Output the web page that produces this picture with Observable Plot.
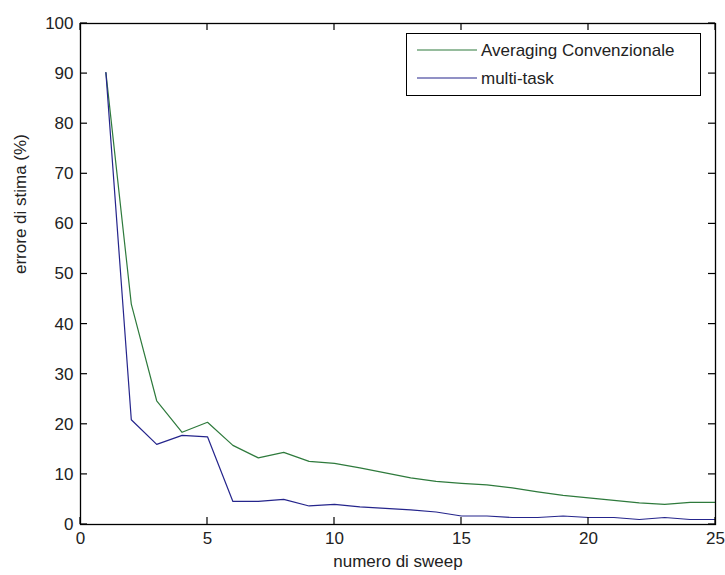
<!DOCTYPE html>
<html>
<head>
<meta charset="utf-8">
<script src="https://cdn.jsdelivr.net/npm/d3@7"></script>
<script src="https://cdn.jsdelivr.net/npm/@observablehq/plot@0.6"></script>
<style>
  html, body { margin: 0; padding: 0; background: #fff; }
  #chart { width: 725px; height: 575px; }
</style>
</head>
<body>
<div id="chart"></div>
<script>
const sweeps = [1,2,3,4,5,6,7,8,9,10,11,12,13,14,15,16,17,18,19,20,21,22,23,24,25];
const averagingConvenzionale = [90.2,44,24.7,18.4,20.4,15.8,13.3,14.4,12.6,12.2,11.3,10.3,9.3,8.6,8.2,7.9,7.3,6.5,5.8,5.3,4.8,4.3,4.0,4.4,4.4];
const multiTask = [90.2,20.9,16.0,17.8,17.5,4.6,4.6,5.0,3.7,4.0,3.5,3.2,2.9,2.5,1.7,1.7,1.4,1.4,1.7,1.4,1.4,1.0,1.4,1.0,1.0];
const seriesNames = ["Averaging Convenzionale", "multi-task"];
const seriesColors = ["#2e7a3c", "#25258c"];
const xTicks = [0,5,10,15,20,25];
const yTicks = [0,10,20,30,40,50,60,70,80,90,100];

const rows = [];
sweeps.forEach((s, i) => {
  rows.push({sweep: s, err: averagingConvenzionale[i], serie: seriesNames[0]});
  rows.push({sweep: s, err: multiTask[i], serie: seriesNames[1]});
});

const W = 725, H = 575, ML = 80, MT = 23, MR = 10, MB = 51;
const TICK = 7;
const font = "Liberation Sans, Arial, sans-serif";

const plot = Plot.plot({
  width: W,
  height: H,
  marginLeft: ML,
  marginTop: MT,
  marginRight: MR,
  marginBottom: MB,
  style: {fontFamily: font, fontSize: "17px", color: "#222", background: "#fff"},
  x: {domain: [0, 25], label: null},
  y: {domain: [0, 100], label: null},
  color: {domain: seriesNames, range: seriesColors},
  marks: [
    Plot.lineY(rows, {x: "sweep", y: "err", stroke: "serie", strokeWidth: 1.2}),
    Plot.axisX(xTicks, {anchor: "bottom", tickSize: 0, tickPadding: 7, fontSize: 17}),
    Plot.axisY(yTicks, {anchor: "left", tickSize: 0, tickPadding: 7, fontSize: 17}),
    Plot.frame({stroke: "#000", strokeWidth: 1.3}),
    Plot.text(["numero di sweep"], {frameAnchor: "bottom", dy: 42, fontSize: 17, fill: "#222"}),
    Plot.text(["errore di stima (%)"], {frameAnchor: "left", dx: -60, rotate: -90, fontSize: 17, fill: "#222"})
  ]
});

// inward MATLAB-style ticks on all four sides, placed with the plot's own scales
const sx = plot.scale("x"), sy = plot.scale("y");
const svg = d3.select(plot);
const tg = svg.append("g").attr("stroke", "#000").attr("stroke-width", 1.2);
const pTop = MT, pBottom = H - MB, pLeft = ML, pRight = W - MR;
xTicks.forEach(t => {
  const px = sx.apply(t);
  tg.append("line").attr("x1", px).attr("x2", px).attr("y1", pBottom).attr("y2", pBottom - TICK);
  tg.append("line").attr("x1", px).attr("x2", px).attr("y1", pTop).attr("y2", pTop + TICK);
});
yTicks.forEach(t => {
  const py = sy.apply(t);
  tg.append("line").attr("y1", py).attr("y2", py).attr("x1", pLeft).attr("x2", pLeft + TICK);
  tg.append("line").attr("y1", py).attr("y2", py).attr("x1", pRight).attr("x2", pRight - TICK);
});

// Legend box
const lg = svg.append("g").attr("font-family", font).attr("font-size", 17).attr("text-anchor", "start");
lg.append("rect").attr("x", 406.5).attr("y", 33.5).attr("width", 294).attr("height", 62)
  .attr("fill", "#fff").attr("stroke", "#000").attr("stroke-width", 1);
seriesNames.forEach((name, i) => {
  const yy = 50 + i * 28;
  lg.append("line").attr("x1", 417).attr("x2", 477).attr("y1", yy).attr("y2", yy)
    .attr("stroke", seriesColors[i]).attr("stroke-width", 1.2);
  lg.append("text").attr("x", 481).attr("y", yy).attr("dy", "0.35em")
    .attr("text-anchor", "start").attr("fill", "#222").text(name);
});

document.getElementById("chart").appendChild(plot);
</script>
</body>
</html>
